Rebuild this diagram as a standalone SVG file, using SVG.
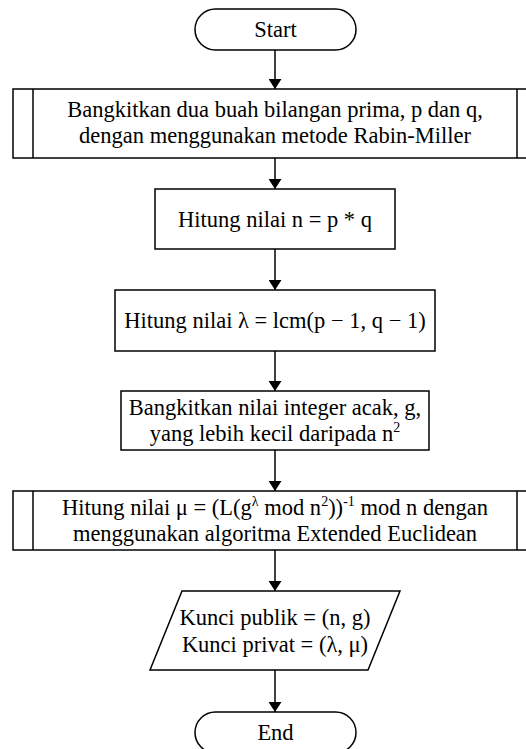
<svg xmlns="http://www.w3.org/2000/svg" width="526" height="749" viewBox="0 0 526 749">
<style>
.s{fill:#fff;stroke:#000;stroke-width:1.5}
.t{font-size:22.5px;fill:#000;text-anchor:middle}
.sup{font-size:14px}
.c{stroke:#000;stroke-width:1.5;fill:none}
</style>
<defs>
<marker id="ah" markerWidth="10" markerHeight="13" refX="10" refY="6.5" orient="auto" markerUnits="userSpaceOnUse">
<path d="M0,0 L10,6.5 L0,13 Z" fill="#000"/>
</marker>
</defs>
<rect width="526" height="749" fill="#fff"/>
<g id="connectors">
<line class="c" x1="275" y1="50" x2="275" y2="89" marker-end="url(#ah)"/>
<line class="c" x1="275" y1="158" x2="275" y2="189" marker-end="url(#ah)"/>
<line class="c" x1="275" y1="249" x2="275" y2="290" marker-end="url(#ah)"/>
<line class="c" x1="275" y1="351" x2="275" y2="391" marker-end="url(#ah)"/>
<line class="c" x1="275" y1="450" x2="275" y2="491" marker-end="url(#ah)"/>
<line class="c" x1="275" y1="550" x2="275" y2="591" marker-end="url(#ah)"/>
<line class="c" x1="275" y1="670" x2="275" y2="712" marker-end="url(#ah)"/>
</g>
<g font-family="'Liberation Serif', 'Times New Roman', 'DejaVu Serif', serif">
<g id="start">
<rect class="s" x="195" y="9" width="161" height="41" rx="20.5"/>
<text class="t" x="275.5" y="37">Start</text>
</g>
<g id="genprimes">
<rect class="s" x="13" y="89" width="524" height="69"/>
<line class="c" x1="33" y1="89" x2="33" y2="158"/>
<line class="c" x1="517" y1="89" x2="517" y2="158"/>
<text class="t" x="275" y="117">Bangkitkan dua buah bilangan prima, p dan q,</text>
<text class="t" x="275" y="143">dengan menggunakan metode Rabin-Miller</text>
</g>
<g id="computen">
<rect class="s" x="155" y="189" width="240" height="60"/>
<text class="t" x="275" y="227">Hitung nilai n = p * q</text>
</g>
<g id="lambda">
<rect class="s" x="115" y="290" width="320" height="61"/>
<text class="t" x="275" y="328">Hitung nilai λ = lcm(p − 1, q − 1)</text>
</g>
<g id="geng">
<rect class="s" x="121" y="391" width="308" height="59"/>
<text class="t" x="275" y="415">Bangkitkan nilai integer acak, g,</text>
<text class="t" x="275" y="441">yang lebih kecil daripada n<tspan class="sup" dy="-9">2</tspan></text>
</g>
<g id="mu">
<rect class="s" x="13" y="491" width="524" height="59"/>
<line class="c" x1="33" y1="491" x2="33" y2="550"/>
<line class="c" x1="517" y1="491" x2="517" y2="550"/>
<text class="t" x="275" y="515">Hitung nilai μ = (L(g<tspan class="sup" dy="-9">λ</tspan><tspan dy="9"> mod n</tspan><tspan class="sup" dy="-9">2</tspan><tspan dy="9">))</tspan><tspan class="sup" dy="-9">-1</tspan><tspan dy="9"> mod n dengan</tspan></text>
<text class="t" x="275" y="541">menggunakan algoritma Extended Euclidean</text>
</g>
<g id="output">
<polygon class="s" points="182,591 400,591 368,670 150,670"/>
<text class="t" x="275" y="625">Kunci publik = (n, g)</text>
<text class="t" x="275" y="652">Kunci privat = (λ, μ)</text>
</g>
<g id="end">
<rect class="s" x="195" y="712" width="161" height="41" rx="20.5"/>
<text class="t" x="275.5" y="740">End</text>
</g>
</g>
</svg>
